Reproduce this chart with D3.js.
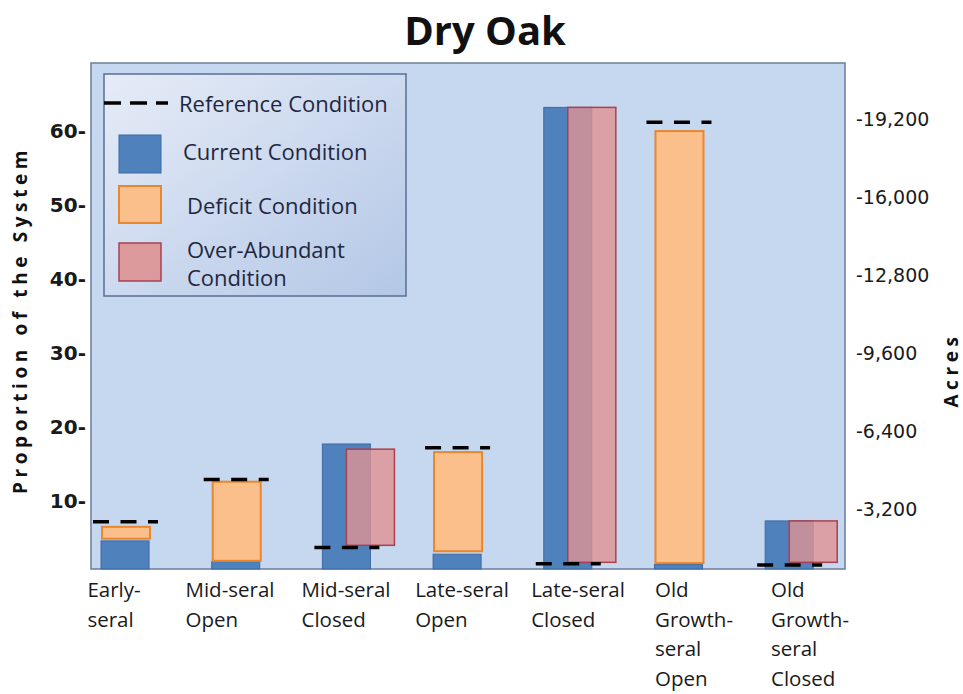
<!DOCTYPE html>
<html><head><meta charset="utf-8">
<script src="https://cdn.jsdelivr.net/npm/d3@7"></script>
<style>body{margin:0;background:#fff;} svg{display:block;}</style>
</head><body><svg id="c" width="963" height="694"></svg>
<script>
const categories = ["Early-seral","Mid-seral Open","Mid-seral Closed","Late-seral Open","Late-seral Closed","Old Growth-seral Open","Old Growth-seral Closed"];
const labelLines = [["Early-","seral"],["Mid-seral","Open"],["Mid-seral","Closed"],["Late-seral","Open"],["Late-seral","Closed"],["Old","Growth-","seral","Open"],["Old","Growth-","seral","Closed"]];
const currentValues   = [4.6, 1.8, 17.7, 2.8, 63.2, 1.4, 7.3];
const deficitLow      = [4.9, 1.9, null, 3.2, null, 1.6, null];
const deficitHigh     = [6.5, 12.6, null, 16.6, null, 60.0, null];
const overLow         = [null, null, 4.0, null, 1.7, null, 1.7];
const overHigh        = [null, null, 17.0, null, 63.2, null, 7.3];
const referenceValues = [7.2, 12.9, 3.7, 17.2, 1.5, 61.2, 1.35];
const leftTicks  = [10, 20, 30, 40, 50, 60];
const rightTicks = [3200, 6400, 9600, 12800, 16000, 19200];
const legendLabels = ["Reference Condition","Current Condition","Deficit Condition","Over-Abundant Condition"];

const svg = d3.select("#c");
const P = {l:91, t:63, r:845, b:569};
const FONT = "'Open Sans', 'DejaVu Sans', sans-serif";

const defs = svg.append("defs");
const lg = defs.append("linearGradient").attr("id","lg").attr("x1","0").attr("y1","0").attr("x2","1").attr("y2","1");
lg.append("stop").attr("offset","0").attr("stop-color","#e6ecf7");
lg.append("stop").attr("offset","1").attr("stop-color","#b3c7e6");

// plot background
svg.append("rect").attr("x",P.l).attr("y",P.t).attr("width",P.r-P.l).attr("height",P.b-P.t)
  .attr("fill","#c6d8f0").attr("stroke","#6b7d9c").attr("stroke-width",1.5);

const y = d3.scaleLinear().domain([0.8, 69.2]).range([P.b, P.t]);
const yR = d3.scaleLinear().domain([0, 19200]).range([587, 119]);
const xb = d3.scaleBand().domain(categories).range([101, 813.2]).paddingInner(0.566).paddingOuter(0);
const xl = d3.scalePoint().domain(categories).range([114, 810]);
const bw = xb.bandwidth();
const base = y.domain()[0];

const idx = categories.map((c,i)=>i);

// current bars
svg.append("g").selectAll("rect").data(idx).join("rect")
  .attr("x", i=>xb(categories[i])).attr("width", bw)
  .attr("y", i=>y(currentValues[i])).attr("height", i=>y(base)-y(currentValues[i]))
  .attr("fill","#4f81bd").attr("stroke","#3d6aa3").attr("stroke-width",1);

// deficit bars
svg.append("g").selectAll("rect").data(idx.filter(i=>deficitHigh[i]!=null)).join("rect")
  .attr("x", i=>xb(categories[i])+1).attr("width", bw)
  .attr("y", i=>y(deficitHigh[i])).attr("height", i=>y(deficitLow[i])-y(deficitHigh[i]))
  .attr("fill","#fbbf8c").attr("stroke","#e8872d").attr("stroke-width",2);

// over-abundant bars
svg.append("g").selectAll("rect").data(idx.filter(i=>overHigh[i]!=null)).join("rect")
  .attr("x", i=>xb(categories[i])+bw/2).attr("width", bw)
  .attr("y", i=>y(overHigh[i])).attr("height", i=>y(overLow[i])-y(overHigh[i]))
  .attr("fill","#de9294").attr("fill-opacity",0.8).attr("stroke","#a8414f").attr("stroke-width",1.5);

// reference lines
svg.append("g").selectAll("line").data(idx).join("line")
  .attr("x1", i=>xb(categories[i])-8).attr("x2", i=>xb(categories[i])+57)
  .attr("y1", i=>y(referenceValues[i])).attr("y2", i=>y(referenceValues[i]))
  .attr("stroke","#000").attr("stroke-width",3.5).attr("stroke-dasharray","16,11.5");

// left axis
const ga = svg.append("g").attr("transform",`translate(${P.l},0)`)
  .call(d3.axisLeft(y).tickValues(leftTicks).tickSize(0).tickPadding(5).tickFormat(d=>d+"-"));
ga.select(".domain").remove();
ga.selectAll("text").attr("font-family","'DejaVu Sans', sans-serif").attr("font-size",20).attr("font-weight","bold").attr("fill","#1a1a1a");

// right axis
const gr = svg.append("g").attr("transform",`translate(${P.r},0)`)
  .call(d3.axisRight(yR).tickValues(rightTicks).tickSize(0).tickPadding(11).tickFormat(d=>"-"+d3.format(",")(d)));
gr.select(".domain").remove();
gr.selectAll("text").attr("font-family","'DejaVu Sans', sans-serif").attr("font-size",19).attr("fill","#1a1a1a");

// x labels
const xg = svg.append("g");
categories.forEach((c,i)=>{
  const t = xg.append("text").attr("font-family",FONT).attr("font-size",20.5).attr("fill","#1a1a1a");
  labelLines[i].forEach((ln,j)=>{
    t.append("tspan").attr("x",0).attr("y",597+j*29.5).text(ln);
  });
  let w = 0;
  t.selectAll("tspan").each(function(){ w = Math.max(w, this.getComputedTextLength()); });
  t.selectAll("tspan").attr("x", xl(c)-w/2);
});

// title
svg.append("text").attr("x",485).attr("y",45).attr("text-anchor","middle")
  .attr("font-family",FONT).attr("font-weight","bold").attr("font-size",40).attr("fill","#111")
  .text("Dry Oak");

// axis titles
svg.append("text").attr("transform","translate(27,320) rotate(-90)").attr("text-anchor","middle")
  .attr("font-family",FONT).attr("font-weight","bold").attr("font-size",19).attr("letter-spacing",4.6).attr("fill","#111")
  .text("Proportion of the System");
svg.append("text").attr("transform","translate(958,370) rotate(-90)").attr("text-anchor","middle")
  .attr("font-family",FONT).attr("font-weight","bold").attr("font-size",19).attr("letter-spacing",4.6).attr("fill","#111")
  .text("Acres");

// legend
const L = svg.append("g");
L.append("rect").attr("x",104).attr("y",74).attr("width",302).attr("height",222)
  .attr("fill","url(#lg)").attr("stroke","#5a6d95").attr("stroke-width",1.5);
L.append("line").attr("x1",104).attr("x2",168).attr("y1",103).attr("y2",103)
  .attr("stroke","#000").attr("stroke-width",3.5).attr("stroke-dasharray","17,9");
const lt = (x,yy,s)=>L.append("text").attr("x",x).attr("y",yy).attr("font-family",FONT).attr("font-size",22).attr("fill","#1f2740").attr("dominant-baseline","central").text(s);
lt(179,103,legendLabels[0]);
L.append("rect").attr("x",119).attr("y",135).attr("width",42).attr("height",38).attr("fill","#4f81bd").attr("stroke","#3d6aa3");
lt(183,151,legendLabels[1]);
L.append("rect").attr("x",119).attr("y",186).attr("width",42).attr("height",37).attr("fill","#fbbf8c").attr("stroke","#e8872d").attr("stroke-width",2);
lt(187,205,legendLabels[2]);
L.append("rect").attr("x",119).attr("y",243).attr("width",42).attr("height",38).attr("fill","#de9294").attr("fill-opacity",0.9).attr("stroke","#a8414f").attr("stroke-width",1.5);
lt(187,249,"Over-Abundant");
lt(187,277,"Condition");
</script></body></html>
